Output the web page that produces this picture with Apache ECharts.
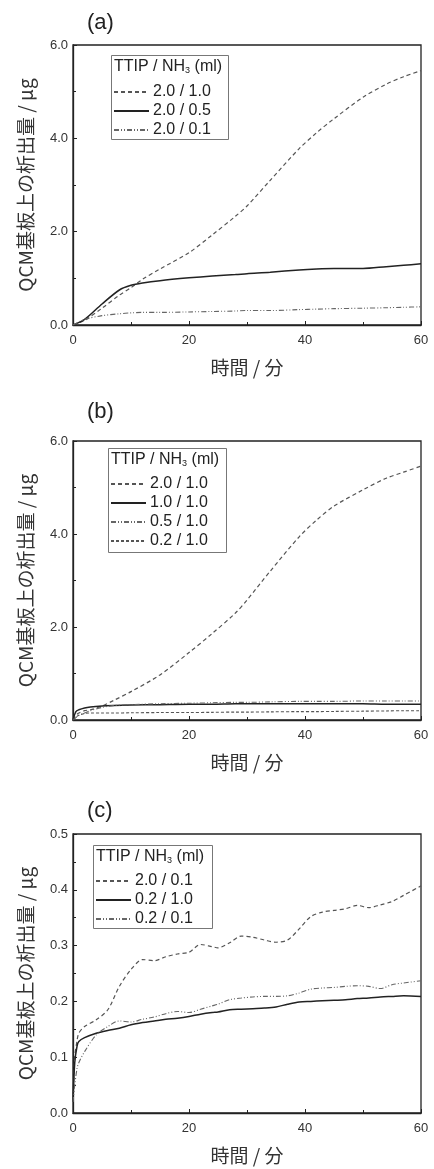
<!DOCTYPE html>
<html><head><meta charset="utf-8">
<script src="https://cdn.jsdelivr.net/npm/echarts@6/dist/echarts.min.js"></script>
<style>html,body{margin:0;padding:0;background:#fff}#c{width:434px;height:1169px}</style>
</head><body><div id="c"></div>
<script>
// ---- data ----
const panelLabels = ['(a)', '(b)', '(c)'];
const xTitle = '時間 / 分';
const yTitle = 'QCM基板上の析出量 / μg';
const legendTitle = 'TTIP / NH{s|3} (ml)';

const labelsA = ['2.0 / 1.0', '2.0 / 0.5', '2.0 / 0.1'];
const labelsB = ['2.0 / 1.0', '1.0 / 1.0', '0.5 / 1.0', '0.2 / 1.0'];
const labelsC = ['2.0 / 0.1', '0.2 / 1.0', '0.2 / 0.1'];

const timeA = [0, 2, 5, 8, 10, 12, 15, 20, 24, 28, 30, 34, 39, 42, 45, 50, 54, 57, 60];
const a1 = [0, 0.1, 0.36, 0.64, 0.8, 0.98, 1.2, 1.55, 1.93, 2.33, 2.55, 3.1, 3.78, 4.12, 4.42, 4.88, 5.16, 5.32, 5.45];
const a2 = [0, 0.12, 0.45, 0.75, 0.85, 0.9, 0.95, 1.01, 1.05, 1.08, 1.1, 1.13, 1.18, 1.2, 1.21, 1.21, 1.25, 1.28, 1.31];
const a3 = [0, 0.12, 0.2, 0.24, 0.26, 0.27, 0.27, 0.28, 0.29, 0.3, 0.31, 0.31, 0.33, 0.34, 0.35, 0.36, 0.37, 0.38, 0.39];

const timeB = [0, 0.5, 1, 2, 3, 5, 7, 10, 15, 20, 24, 28, 30, 34, 39, 42, 45, 50, 54, 57, 60];
const b1 = [0, 0.1, 0.15, 0.2, 0.22, 0.3, 0.42, 0.61, 0.97, 1.45, 1.86, 2.3, 2.58, 3.2, 3.94, 4.3, 4.6, 4.95, 5.2, 5.33, 5.46];
const b2 = [0, 0.18, 0.22, 0.26, 0.28, 0.3, 0.31, 0.32, 0.33, 0.34, 0.34, 0.35, 0.35, 0.35, 0.35, 0.35, 0.35, 0.35, 0.34, 0.34, 0.34];
const b3 = [0, 0.05, 0.1, 0.15, 0.2, 0.27, 0.31, 0.33, 0.35, 0.36, 0.37, 0.38, 0.38, 0.39, 0.4, 0.4, 0.4, 0.41, 0.41, 0.41, 0.41];
const b4 = [0, 0.06, 0.1, 0.14, 0.15, 0.15, 0.15, 0.155, 0.16, 0.16, 0.165, 0.17, 0.17, 0.175, 0.18, 0.18, 0.185, 0.19, 0.195, 0.2, 0.2];

const timeC = [0, 0.3, 0.7, 1, 2, 4, 6, 8, 10, 12, 14, 16, 18, 20, 22, 24, 25, 27, 29, 31, 33, 35, 37, 39, 41, 43, 45, 47, 49, 51, 53, 55, 57, 60];
const c1 = [0.02, 0.1, 0.13, 0.143, 0.155, 0.167, 0.185, 0.227, 0.257, 0.275, 0.273, 0.28, 0.285, 0.288, 0.302, 0.298, 0.296, 0.305, 0.317, 0.315, 0.31, 0.306, 0.31, 0.33, 0.352, 0.36, 0.363, 0.366, 0.372, 0.368, 0.373, 0.379, 0.39, 0.407];
const c2 = [0.02, 0.09, 0.12, 0.128, 0.135, 0.143, 0.148, 0.152, 0.158, 0.162, 0.165, 0.168, 0.17, 0.173, 0.177, 0.18, 0.181, 0.185, 0.186, 0.187, 0.188, 0.19, 0.195, 0.199, 0.2, 0.201, 0.202, 0.203, 0.205, 0.206, 0.208, 0.209, 0.21, 0.209];
const c3 = [0.02, 0.05, 0.08, 0.09, 0.11, 0.14, 0.155, 0.165, 0.163, 0.168, 0.172, 0.178, 0.182, 0.18, 0.186, 0.192, 0.195, 0.203, 0.206, 0.208, 0.209, 0.209, 0.21, 0.215, 0.222, 0.224, 0.225, 0.227, 0.228, 0.227, 0.223, 0.23, 0.233, 0.237];

// ---- styles ----
const DASH = [4, 3];
const DASH_DOT2 = [5, 2, 1, 2, 1, 2];
const DASH_SHORT = [3, 2];
const FONT = '"Liberation Sans", Arial, sans-serif';
const JFONT = '"Noto Sans CJK JP", "Liberation Sans", sans-serif';

const grids = [
  { left: 73, top: 45, width: 348, height: 280 },
  { left: 73, top: 441, width: 348, height: 279 },
  { left: 73, top: 834, width: 348, height: 279 }
];
const yMax = [6, 6, 0.5];
const yInt = [2, 2, 0.1];

function zip(t, v) { return t.map((x, i) => [x, v[i]]); }

const xAxes = grids.map((g, i) => ({
  gridIndex: i, type: 'value', min: 0, max: 60, interval: 20,
  axisLine: { show: true, lineStyle: { color: '#222', width: 1.3 } },
  axisTick: { show: true, inside: true, length: 4, lineStyle: { color: '#222' } },
  minorTick: { show: true, splitNumber: 2, length: 3, lineStyle: { color: '#222' } },
  splitLine: { show: false },
  axisLabel: { color: '#333', fontSize: 13, fontFamily: FONT, margin: 9 },
  name: xTitle, nameLocation: 'middle', nameGap: 33,
  nameTextStyle: { color: '#333', fontSize: 19, fontFamily: JFONT }
}));
const yAxes = grids.map((g, i) => ({
  gridIndex: i, type: 'value', min: 0, max: yMax[i], interval: yInt[i],
  axisLine: { show: true, lineStyle: { color: '#222', width: 1.3 } },
  axisTick: { show: true, inside: true, length: 4, lineStyle: { color: '#222' } },
  minorTick: { show: true, splitNumber: 2, length: 3, lineStyle: { color: '#222' } },
  splitLine: { show: false },
  axisLabel: { color: '#333', fontSize: 13, fontFamily: FONT, margin: 5, formatter: v => v.toFixed(1) },
  name: yTitle, nameLocation: 'middle', nameGap: 38,
  nameTextStyle: { color: '#333', fontSize: 19, fontFamily: JFONT }
}));

function mk(idx, key, label, t, v, color, type, width, smooth) {
  return {
    name: key + ':' + label, type: 'line', xAxisIndex: idx, yAxisIndex: idx,
    data: zip(t, v), symbol: 'none', showSymbol: false, smooth: smooth,
    lineStyle: { color: color, type: type, width: width },
    itemStyle: { color: color }
  };
}

const series = [
  mk(0, 'a', labelsA[0], timeA, a1, '#555', DASH, 1.2, 0.3),
  mk(0, 'a', labelsA[1], timeA, a2, '#222', 'solid', 1.5, 0.3),
  mk(0, 'a', labelsA[2], timeA, a3, '#666', DASH_DOT2, 1.1, 0.3),
  mk(1, 'b', labelsB[0], timeB, b1, '#555', DASH, 1.2, 0.3),
  mk(1, 'b', labelsB[1], timeB, b2, '#222', 'solid', 1.5, 0.3),
  mk(1, 'b', labelsB[2], timeB, b3, '#666', DASH_DOT2, 1.1, 0.3),
  mk(1, 'b', labelsB[3], timeB, b4, '#555', DASH_SHORT, 1.1, 0.3),
  mk(2, 'c', labelsC[0], timeC, c1, '#555', DASH, 1.2, 0.3),
  mk(2, 'c', labelsC[1], timeC, c2, '#222', 'solid', 1.5, 0.3),
  mk(2, 'c', labelsC[2], timeC, c3, '#666', DASH_DOT2, 1.1, 0.3)
];

const legBoxes = [
  { x: 111, y: 55, w: 117, h: 84, itemTop: 84 },
  { x: 108, y: 448, w: 118, h: 104, itemTop: 476 },
  { x: 93, y: 845, w: 119, h: 83, itemTop: 873 }
];
const legKeys = ['a', 'b', 'c'];
const legLabels = [labelsA, labelsB, labelsC];

const legends = legBoxes.map((b, i) => ({
  orient: 'vertical', left: b.x + 2, top: b.itemTop,
  itemWidth: 35, itemHeight: 12, itemGap: 3, padding: 0,
  data: legLabels[i].map(l => legKeys[i] + ':' + l),
  formatter: n => n.split(':')[1],
  itemStyle: { opacity: 0, borderWidth: 0 },
  textStyle: { color: '#222', fontSize: 16, fontFamily: FONT, padding: [0, 0, 0, -1] },
  selectedMode: false
}));

const graphics = [];
legBoxes.forEach((b, i) => {
  graphics.push({ type: 'rect', left: b.x, top: b.y, shape: { width: b.w, height: b.h },
    style: { fill: '#fff', stroke: '#777', lineWidth: 1 }, z: 1 });
  graphics.push({ type: 'text', left: b.x + 3, top: b.y + 4, z: 100,
    style: { text: legendTitle, fill: '#222', font: '16px ' + FONT,
      rich: { s: { fontSize: 9, fontFamily: FONT, fill: '#222', verticalAlign: 'bottom', padding: [8, 0, 0, 0] } } } });
});
const labTops = [12, 401, 800];
panelLabels.forEach((t, i) => {
  graphics.push({ type: 'text', left: 87, top: labTops[i], z: 100,
    style: { text: t, fill: '#222', font: '22px ' + FONT } });
});

const chart = echarts.init(document.getElementById('c'), null, { renderer: 'canvas' });
chart.setOption({
  backgroundColor: '#fff',
  animation: false,
  grid: grids.map(g => Object.assign({ show: true, borderColor: '#222', borderWidth: 1.3, backgroundColor: 'transparent' }, g)),
  xAxis: xAxes,
  yAxis: yAxes,
  legend: legends,
  graphic: graphics,
  series: series
});
</script></body></html>
